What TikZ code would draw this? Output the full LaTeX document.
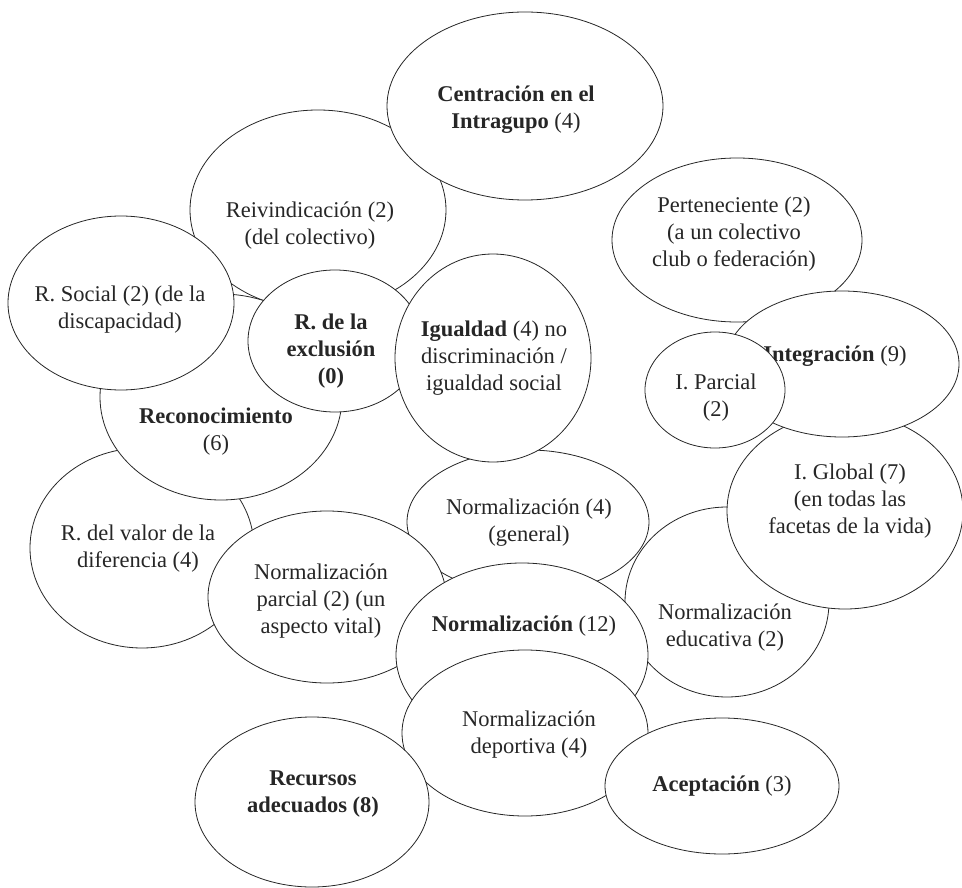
\documentclass[tikz,border=0pt]{standalone}
\usepackage{fontspec}
\setmainfont{Liberation Serif}
\usetikzlibrary{shapes.geometric}
\begin{document}
\begin{tikzpicture}[x=1pt,y=-1pt,
  bub/.style={ellipse, draw=black!85, fill=white, line width=0.8pt, inner sep=0pt},
  txt/.style={align=center, font=\fontsize{22.5}{27}\selectfont, text=black!85, inner sep=0pt}]
\useasboundingbox (0,0) rectangle (962,888);
% R. del valor
\node[bub, minimum width=224pt, minimum height=200pt] (valor) at (142,548) {};
\node[txt] (tvalor) at (138,549) {R. del valor de la\\diferencia (4)};
% Reivindicacion
\node[bub, minimum width=256pt, minimum height=200pt] (reiv) at (318,210) {};
\node[txt] (treiv) at (310,226) {Reivindicación (2)\\(del colectivo)};
% Centracion
\node[bub, minimum width=276pt, minimum height=188pt] (centr) at (525,106) {};
\node[txt] (tcentr) at (516,110) {\textbf{Centración en el}\\\textbf{Intragupo} (4)};
% Reconocimiento
\node[bub, minimum width=242pt, minimum height=206pt] (recon) at (221,397) {};
\node[txt] (trecon) at (216,432) {\textbf{Reconocimiento}\\(6)};
% R. Social
\node[bub, minimum width=226pt, minimum height=174pt] (rsoc) at (121,303) {};
\node[txt] (trsoc) at (120,310) {R. Social (2) (de la\\discapacidad)};
% Normalizacion educativa
\node[bub, minimum width=204pt, minimum height=190pt] (neduc) at (727,602) {};
\node[txt] (tneduc) at (725,628) {Normalización\\educativa (2)};
% Normalizacion (4)
\node[bub, minimum width=242pt, minimum height=144pt] (ngen) at (528,522) {};
\node[txt] (tngen) at (529,523) {Normalización (4)\\(general)};
% R. de la exclusion
\node[bub, minimum width=174pt, minimum height=142pt] (rexcl) at (335,341) {};
\node[txt] (trexcl) at (331,351) {\textbf{R. de la}\\\textbf{exclusión}\\\textbf{(0)}};
% Igualdad
\node[bub, minimum width=196pt, minimum height=208pt] (igual) at (493,358) {};
\node[txt] (tigual) at (494,358) {\textbf{Igualdad} (4) no\\discriminación /\\igualdad social};
% Normalizacion parcial
\node[bub, minimum width=238pt, minimum height=172pt] (npar) at (327,597) {};
\node[txt] (tnpar) at (321,601) {Normalización\\parcial (2) (un\\aspecto vital)};
% Normalizacion (12)
\node[bub, minimum width=252pt, minimum height=184pt] (norm) at (522,655) {};
\node[txt] (tnorm) at (524,626) {\textbf{Normalización} (12)};
% Normalizacion deportiva
\node[bub, minimum width=246pt, minimum height=166pt] (ndep) at (525,733) {};
\node[txt] (tndep) at (529,735) {Normalización\\deportiva (4)};
% Recursos adecuados
\node[bub, minimum width=234pt, minimum height=170pt] (recur) at (312,802) {};
\node[txt] (trecur) at (313,794) {\textbf{Recursos}\\\textbf{adecuados (8)}};
% Aceptacion
\node[bub, minimum width=234pt, minimum height=136pt] (acep) at (722,786) {};
\node[txt] (tacep) at (722,786) {\textbf{Aceptación} (3)};
% Perteneciente
\node[bub, minimum width=250pt, minimum height=164pt] (pert) at (737,240) {};
\node[txt] (tpert) at (734,234) {Perteneciente (2)\\(a un colectivo\\club o federación)};
% I. Global
\node[bub, minimum width=236pt, minimum height=196pt] (iglob) at (845,511) {};
\node[txt] (tiglob) at (850,501) {I. Global (7)\\(en todas las\\facetas de la vida)};
% Integracion
\node[bub, minimum width=234pt, minimum height=146pt] (integ) at (842,364) {};
\node[txt] (tinteg) at (835,356) {\textbf{Integración} (9)};
% I. Parcial
\node[bub, minimum width=140pt, minimum height=116pt] (ipar) at (715,390) {};
\node[txt] (tipar) at (716,398) {I. Parcial\\(2)};
\end{tikzpicture}
\end{document}
